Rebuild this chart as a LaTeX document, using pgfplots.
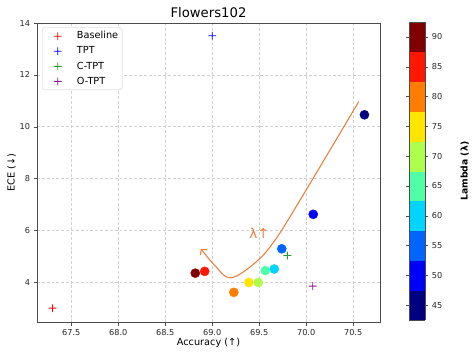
\documentclass[border=0pt]{standalone}
\usepackage{pgfplots}
\pgfplotsset{compat=1.18}
\usepackage{fontspec}
\setmainfont{DejaVu Sans}
\usetikzlibrary{arrows.meta}
\definecolor{curvec}{RGB}{238,125,60}
\definecolor{baser}{RGB}{255,0,0}
\definecolor{tptb}{RGB}{0,0,255}
\definecolor{ctptgreen}{RGB}{40,160,40}
\definecolor{otptpurple}{RGB}{140,20,150}

\pgfdeclareplotmark{fplus}{%
  \pgfpathrectangle{\pgfpoint{-\pgfplotmarksize}{-0.45pt}}{\pgfpoint{2\pgfplotmarksize}{0.9pt}}%
  \pgfpathrectangle{\pgfpoint{-0.45pt}{-\pgfplotmarksize}}{\pgfpoint{0.9pt}{2\pgfplotmarksize}}%
  \pgfusepathqfill}

\pgfplotstableread{
x y lam
68.82 4.35 90
68.92 4.42 85
69.23 3.61 80
69.39 3.99 75
69.49 3.99 70
69.565 4.45 65
69.66 4.51 60
69.74 5.29 55
70.075 6.62 50
70.62 10.46 45
}\lamdata

\begin{document}
\begin{tikzpicture}
\begin{axis}[
  scale only axis, width=353pt, height=308pt,
  xmin=67.135, xmax=70.786, ymin=2.45, ymax=14,
  xtick={67.5,68,68.5,69,69.5,70,70.5},
  ytick={4,6,8,10,12,14},
  xticklabel style={/pgf/number format/.cd,fixed,fixed zerofill,precision=1},
  /pgf/number format/assume math mode=true,
  tick label style={font=\fontsize{8.4}{10}\selectfont, color=black!85},
  grid=major, grid style={densely dashed, black!18, line width=0.5pt},
  tick align=outside, tick pos=left, major tick length=3.5pt,
  axis line style={black!70}, tick style={black!70},
  title={Flowers102},
  title style={font=\fontsize{13.6}{16}\selectfont, at={(axis description cs:0.5,1)}, anchor=south, yshift=-4pt},
  xlabel={Accuracy (↑)}, ylabel={ECE (↓)},
  label style={font=\fontsize{10}{12}\selectfont},
  xlabel style={at={(axis description cs:0.5,-0.069)}, anchor=center},
  ylabel style={at={(axis description cs:-0.074,0.5)}, anchor=center},
  colormap={lam}{rgb255(0cm)=(0,0,128) rgb255(1cm)=(0,0,255) rgb255(2cm)=(0,100,255) rgb255(3cm)=(0,212,255) rgb255(4cm)=(79,255,168) rgb255(5cm)=(173,255,77) rgb255(6cm)=(255,229,0) rgb255(7cm)=(255,125,0) rgb255(8cm)=(255,23,0) rgb255(9cm)=(128,0,0) rgb255(10cm)=(128,0,0)},
  colormap access=piecewise constant,
  point meta min=42.5, point meta max=92.5,
  colorbar,
  colorbar style={
    at={(parent axis.north east)}, anchor=north west, xshift=21.7pt, yshift=1pt,
    width=16pt, height=306.6pt,
    ytick={45,50,...,90},
    /pgf/number format/assume math mode=true,
    yticklabel style={font=\fontsize{8.4}{10}\selectfont, color=black!85},
    axis line style={black!70}, tick style={black!70},
    tick align=outside, major tick length=3.5pt,
    ylabel={Lambda (λ)},
    ylabel style={font=\fontsize{9.5}{12}\selectfont\bfseries, at={(axis description cs:3.55,0.5)}, anchor=center, rotate=0},
  },
  legend style={at={(axis description cs:0,1)}, anchor=north west, xshift=5.3pt, yshift=-4.6pt,
    draw=black!20, rounded corners=2pt, fill=white,
    font=\fontsize{10}{12}\selectfont, row sep=2pt, inner sep=2pt,
    nodes={text height=7.5pt, text depth=2pt}},
  legend cell align=left,
  legend image code/.code={\path (0cm,0cm) (1.1cm,0cm); \draw[#1] plot coordinates {(0.48cm,0cm)};},
]
\addlegendimage{only marks, mark=fplus, mark size=4pt, color=baser, mark options={fill=baser, draw=baser}}
\addlegendentry{Baseline}
\addlegendimage{only marks, mark=fplus, mark size=4pt, color=tptb, mark options={fill=tptb, draw=tptb}}
\addlegendentry{TPT}
\addlegendimage{only marks, mark=fplus, mark size=4pt, color=ctptgreen, mark options={fill=ctptgreen, draw=ctptgreen}}
\addlegendentry{C-TPT}
\addlegendimage{only marks, mark=fplus, mark size=4pt, color=otptpurple, mark options={fill=otptpurple, draw=otptpurple}}
\addlegendentry{O-TPT}

\addplot[curvec, line width=1.1pt, smooth, tension=0.6, -{Straight Barb[length=4pt,width=9pt]}, forget plot]
  coordinates {(70.56,10.97) (69.95,7.26) (69.67,5.63) (69.46,4.76) (69.196,4.17) (69.03,4.64) (68.88,5.29)};

\addplot[scatter, only marks, mark=*, mark size=4.7pt, point meta=explicit, forget plot,
  scatter/use mapped color={draw=mapped color, fill=mapped color}]
  table[x=x, y=y, meta=lam] {\lamdata};

\node[curvec, font=\fontsize{14}{16}\selectfont] at (axis cs:69.5,5.9) {λ↑};

\addplot[only marks, mark=fplus, mark size=4pt, color=baser, mark options={fill=baser, draw=baser}, forget plot] coordinates {(67.30,3.0)};
\addplot[only marks, mark=fplus, mark size=4pt, color=tptb, mark options={fill=tptb, draw=tptb}, forget plot] coordinates {(69.0,13.51)};
\addplot[only marks, mark=fplus, mark size=4pt, color=ctptgreen, mark options={fill=ctptgreen, draw=ctptgreen}, forget plot] coordinates {(69.80,5.03)};
\addplot[only marks, mark=fplus, mark size=4pt, color=otptpurple, mark options={fill=otptpurple, draw=otptpurple}, forget plot] coordinates {(70.07,3.85)};
\end{axis}
\path (current axis.south west) ++(-38pt,-28.3pt) rectangle ++(472pt,360pt);
\end{tikzpicture}
\end{document}
